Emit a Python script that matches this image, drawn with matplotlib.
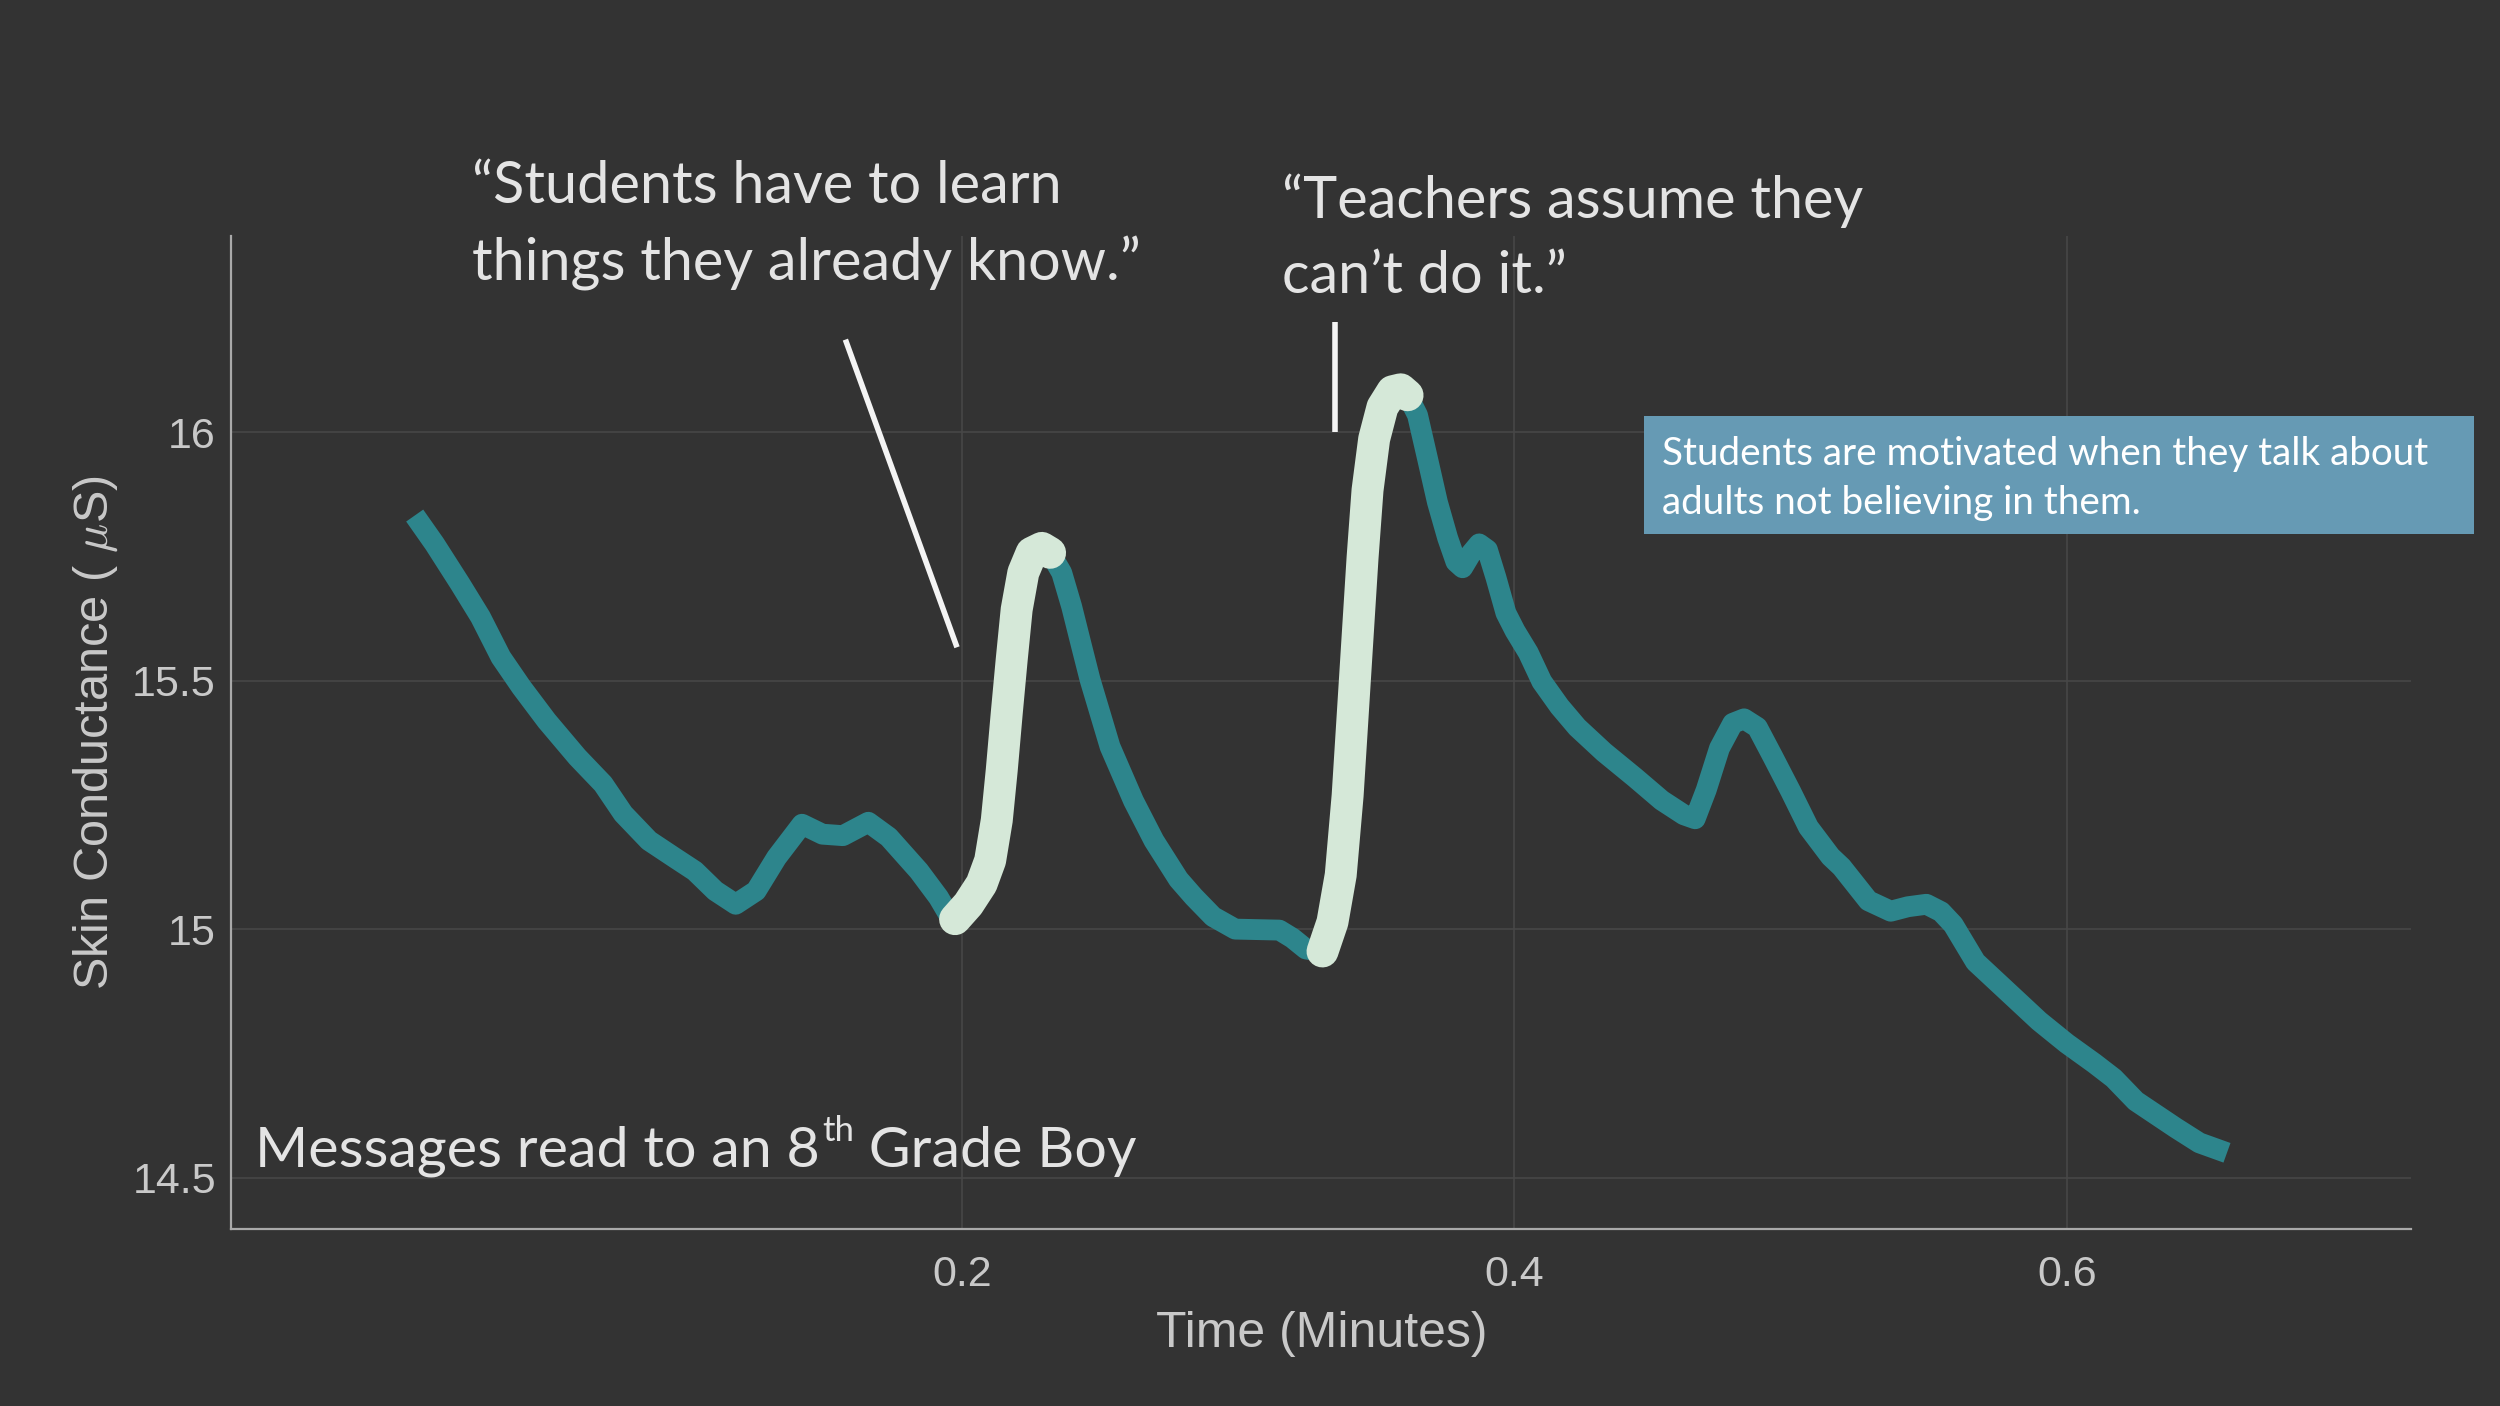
import matplotlib
matplotlib.use('Agg')
import numpy as np
from matplotlib import pyplot as plt
from matplotlib.patches import Rectangle

# skin conductance trace
time_min = [
    0.002, 0.0092, 0.0184, 0.0258, 0.0332, 0.0406, 0.0498, 0.0609, 0.0702, 0.0775,
    0.0868, 0.096, 0.1034, 0.1108, 0.1182, 0.1256, 0.133, 0.1422, 0.1496, 0.157,
    0.1662, 0.1736, 0.1845, 0.1916, 0.1952,
    0.1976, 0.2024, 0.2072, 0.2103, 0.2127, 0.2145, 0.2163, 0.2181, 0.2199, 0.2223,
    0.2253, 0.229, 0.232,
    0.2362, 0.2398, 0.2434, 0.2465, 0.2501, 0.2537, 0.2622, 0.2696, 0.2785, 0.284,
    0.291, 0.299, 0.315, 0.3197, 0.3246,
    0.3306, 0.3342, 0.3372, 0.3397, 0.3415, 0.3433, 0.3451, 0.3469, 0.3493, 0.3523,
    0.3559, 0.3589, 0.3614,
    0.365, 0.3686, 0.3722, 0.3759, 0.3789, 0.3813, 0.3843, 0.3873, 0.3903, 0.3934,
    0.397, 0.4003, 0.4051, 0.41, 0.4164, 0.4228, 0.4325, 0.4437, 0.4534, 0.4614,
    0.4655, 0.4695, 0.4743, 0.4791, 0.4832, 0.488, 0.4936, 0.5001, 0.5065, 0.5145,
    0.5185, 0.5282, 0.5363, 0.5425, 0.5492, 0.5545, 0.5589, 0.567, 0.5815, 0.590,
    0.600, 0.610, 0.617, 0.625, 0.6395, 0.648, 0.658,
]
conductance = [
    15.832, 15.775, 15.695, 15.628, 15.547, 15.487, 15.419, 15.346, 15.292, 15.232,
    15.178, 15.144, 15.117, 15.077, 15.05, 15.077, 15.144, 15.211, 15.191, 15.188,
    15.215, 15.185, 15.117, 15.064, 15.03,
    15.02, 15.05, 15.091, 15.138, 15.219, 15.32, 15.434, 15.542, 15.643, 15.717,
    15.757, 15.767, 15.757,
    15.717, 15.649, 15.569, 15.501, 15.434, 15.367, 15.258, 15.178, 15.10, 15.065,
    15.025, 15.0, 14.998, 14.982, 14.96,
    14.955, 15.014, 15.109, 15.269, 15.428, 15.588, 15.747, 15.883, 15.986, 16.05,
    16.082, 16.086, 16.074,
    16.034, 15.947, 15.859, 15.787, 15.739, 15.727, 15.755, 15.775, 15.763, 15.707,
    15.636, 15.60, 15.556, 15.498, 15.448, 15.406, 15.356, 15.305, 15.259, 15.23,
    15.222, 15.28, 15.364, 15.414, 15.423, 15.406, 15.347, 15.277, 15.205, 15.146,
    15.125, 15.057, 15.036, 15.045, 15.05, 15.035, 15.009, 14.934, 14.859, 14.815,
    14.77, 14.73, 14.70, 14.654, 14.60, 14.57, 14.55,
]

# moments when the messages were read (start, end in minutes)
highlights = [(0.1976, 0.232), (0.3306, 0.3614)]

quotes = ['\u201cStudents have to learn\nthings they already know.\u201d',
          '\u201cTeachers assume they\ncan\u2019t do it.\u201d']
# pointer lines: (x0, y0, x1, y1) in data units
pointers = [(0.1579, 16.186, 0.1983, 15.567), (0.335, 16.221, 0.335, 16.0)]

takeaway = 'Students are motivated when they talk about\nadults not believing in them.'

xticks = [0.2, 0.4, 0.6]
yticks = [14.5, 15, 15.5, 16]
yticklabels = ['14.5', '15', '15.5', '16']

BG = '#333333'
TEAL = '#2d858c'
LIGHT = '#d5e8d8'
TXT = '#c9c9c9'
QUOTE = '#e4e4e4'

plt.rcParams['mathtext.fontset'] = 'cm'

fig = plt.figure(figsize=(25, 14.06), dpi=100, facecolor=BG)
ax = fig.add_axes([0.0925, 0.126, 0.872, 0.706], facecolor=BG)

t = np.array(time_min)
c = np.array(conductance)

ax.plot(t, c, color=TEAL, lw=15, solid_capstyle='butt', solid_joinstyle='round', zorder=3)
for t0, t1 in highlights:
    m = (t >= t0 - 1e-9) & (t <= t1 + 1e-9)
    ax.plot(t[m], c[m], color=LIGHT, lw=23, solid_capstyle='round', solid_joinstyle='round', zorder=4)

for x0, y0, x1, y1 in pointers:
    ax.plot([x0, x1], [y0, y1], color='#f4f4f4', lw=4, solid_capstyle='butt', zorder=5)

ax.set_xlim(-0.0644, 0.7247)
ax.set_ylim(14.397, 16.394)
ax.set_xticks(xticks)
ax.set_xticklabels([f'{v:.1f}' for v in xticks])
ax.set_yticks(yticks)
ax.set_yticklabels(yticklabels)
ax.grid(True, color='#474747', lw=1.2)
ax.set_axisbelow(True)

for side in ['top', 'right']:
    ax.spines[side].set_visible(False)
for side in ['left', 'bottom']:
    ax.spines[side].set_color('#a9a9a9')
    ax.spines[side].set_linewidth(1.6)

ax.tick_params(length=0, colors=TXT, labelsize=31, labelfontfamily='Liberation Sans')
ax.tick_params(axis='x', pad=19)
ax.tick_params(axis='y', pad=11)

ax.set_xlabel('Time (Minutes)', fontsize=36, color=TXT, family='Liberation Sans')
ax.xaxis.set_label_coords(0.5, -0.106)
ax.xaxis.label.set_va('center')
ax.set_ylabel(r'Skin Conductance ( $\mu$S)', fontsize=35, color=TXT, family='Liberation Sans')
ax.yaxis.set_label_coords(-0.0622, 0.5)
ax.yaxis.label.set_va('center')

# quotes
fig.text(0.189, 0.886, quotes[0], fontsize=41.5, family='Lato', color=QUOTE,
         va='top', ha='left', linespacing=1.5)
fig.text(0.513, 0.8765, quotes[1], fontsize=41.5, family='Lato', color=QUOTE,
         va='top', ha='left', linespacing=1.5)

# takeaway box
fig.patches.append(Rectangle((0.6576, 0.620), 0.332, 0.084, transform=fig.transFigure,
                             facecolor='#669ab4', edgecolor='none', zorder=6))
fig.text(0.665, 0.690, takeaway, fontsize=27.8, family='Lato', color='white',
         va='top', ha='left', linespacing=1.45, zorder=7)

# caption with superscript
renderer = fig.canvas.get_renderer()
cap1 = fig.text(0.102, 0.170, 'Messages read to an 8', fontsize=41.3, family='Lato',
                color=QUOTE, va='baseline', ha='left')
bb = cap1.get_window_extent(renderer)
x_th = bb.x1 / fig.bbox.width
sup = fig.text(x_th + 0.0008, 0.170 + 0.0185, 'th', fontsize=25, family='Lato',
               color=QUOTE, va='baseline', ha='left')
bb2 = sup.get_window_extent(renderer)
fig.text(bb2.x1 / fig.bbox.width, 0.170, ' Grade Boy', fontsize=41.3, family='Lato',
         color=QUOTE, va='baseline', ha='left')

fig.savefig('out.png', dpi=100, facecolor=BG)
